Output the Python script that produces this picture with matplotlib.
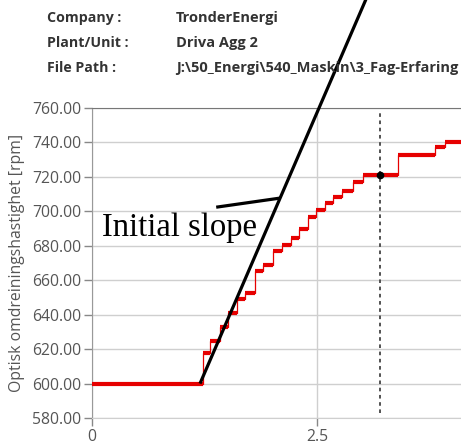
import matplotlib
matplotlib.use("Agg")
import matplotlib.pyplot as plt
import numpy as np

# Speed recording: step start times [s] and speed levels [rpm]
step_times = [0.0, 1.233, 1.311, 1.422, 1.511, 1.611, 1.700, 1.811, 1.900,
              2.011, 2.111, 2.210, 2.300, 2.400, 2.490, 2.590, 2.680, 2.780,
              2.900, 3.010, 3.400, 3.810, 3.920, 4.100]
step_speeds = [600.0, 617.6, 625.0, 632.7, 640.8, 649.0, 652.4, 665.5, 668.7,
               676.9, 680.5, 684.5, 690.0, 696.6, 700.7, 704.8, 708.3, 711.8,
               717.0, 721.0, 732.7, 737.3, 740.2, 740.2]

# Initial slope tangent
slope_t0 = 1.2
slope_n0 = 600.0
slope_rate = 121.0      # rpm/s
slope_n_end = 823.0

# Cursor
cursor_t = 3.2
cursor_n = 721.0

header_keys = ["Company :", "Plant/Unit :", "File Path :"]
header_vals = ["TronderEnergi", "Driva Agg 2", "J:\\50_Energi\\540_Maskin\\3_Fag-Erfaring"]

y_ticks = [580, 600, 620, 640, 660, 680, 700, 720, 740, 760]
x_ticks = [0, 2.5]
x_tick_labels = ["0", "2.5"]

W, H = 461, 448
fig = plt.figure(figsize=(W / 100, H / 100), dpi=100)
ax = fig.add_axes([92 / W, 30 / H, 1 - 92 / W, 310 / H])

grid_c = "#cfcfcf"
text_c = "#555555"

ax.set_xlim(0, 4.1)
ax.set_ylim(580, 760)
ax.set_yticks(y_ticks)
ax.set_yticklabels([f"{v:.2f}" for v in y_ticks])
ax.set_xticks(x_ticks)
ax.set_xticklabels(x_tick_labels)
ax.grid(True, color=grid_c, lw=1.0)
ax.set_axisbelow(True)
ax.tick_params(axis="both", direction="out", length=6, width=1, color="#888888",
               labelcolor=text_c, labelsize=11.3, pad=2)
for lab in ax.get_xticklabels() + ax.get_yticklabels():
    lab.set_family("Open Sans")
ax.spines["right"].set_visible(False)
ax.spines["left"].set_color("#999999")
ax.spines["bottom"].set_color(grid_c)
ax.spines["top"].set_color("#777777")

fig.text(17 / W, 0.5 * (30 + 340) / H, "Optisk omdreiningshastighet [rpm]",
         family="Open Sans", fontsize=11.3, color=text_c, rotation=90,
         ha="center", va="center")

# measured speed: thin risers, thick plateaus
red = "#e60000"
ax.plot(step_times, step_speeds, drawstyle="steps-post", color=red,
        lw=0.9, zorder=3)
ax.hlines(step_speeds[:-1], step_times[:-1], step_times[1:], color=red,
          lw=3.0, zorder=3)

# cursor line and marker
ax.axvline(cursor_t, ymin=0.015, ymax=0.985, color="#444444", lw=1.3,
           dashes=(2.0, 2.0), zorder=2)
ax.plot([cursor_t], [cursor_n], "o", color="black", ms=4.5, zorder=5)

# initial slope tangent
t_end = slope_t0 + (slope_n_end - slope_n0) / slope_rate
ax.plot([slope_t0, t_end], [slope_n0, slope_n_end], color="black", lw=2.3,
        clip_on=False, zorder=6, solid_capstyle="butt")

# annotation
t_tip = 2.09
ax.plot([1.38, t_tip], [702.4, slope_n0 + (t_tip - slope_t0) * slope_rate],
        color="black", lw=2.3, zorder=6, solid_capstyle="butt")
ax.text(0.11, 685.6, "Initial slope", family="Liberation Serif", fontsize=23.5,
        color="black", ha="left", va="baseline", zorder=7)

# header block
for i, (k, v) in enumerate(zip(header_keys, header_vals)):
    y = 1 - (18 + 25 * i) / H
    fig.text(47 / W, y, k, family="Open Sans", weight="bold", fontsize=10.2,
             color="#333333", ha="left", va="center")
    fig.text(176 / W, y, v, family="Open Sans", weight="bold", fontsize=10.5,
             color="#333333", ha="left", va="center")

fig.savefig("out.png", dpi=100)
